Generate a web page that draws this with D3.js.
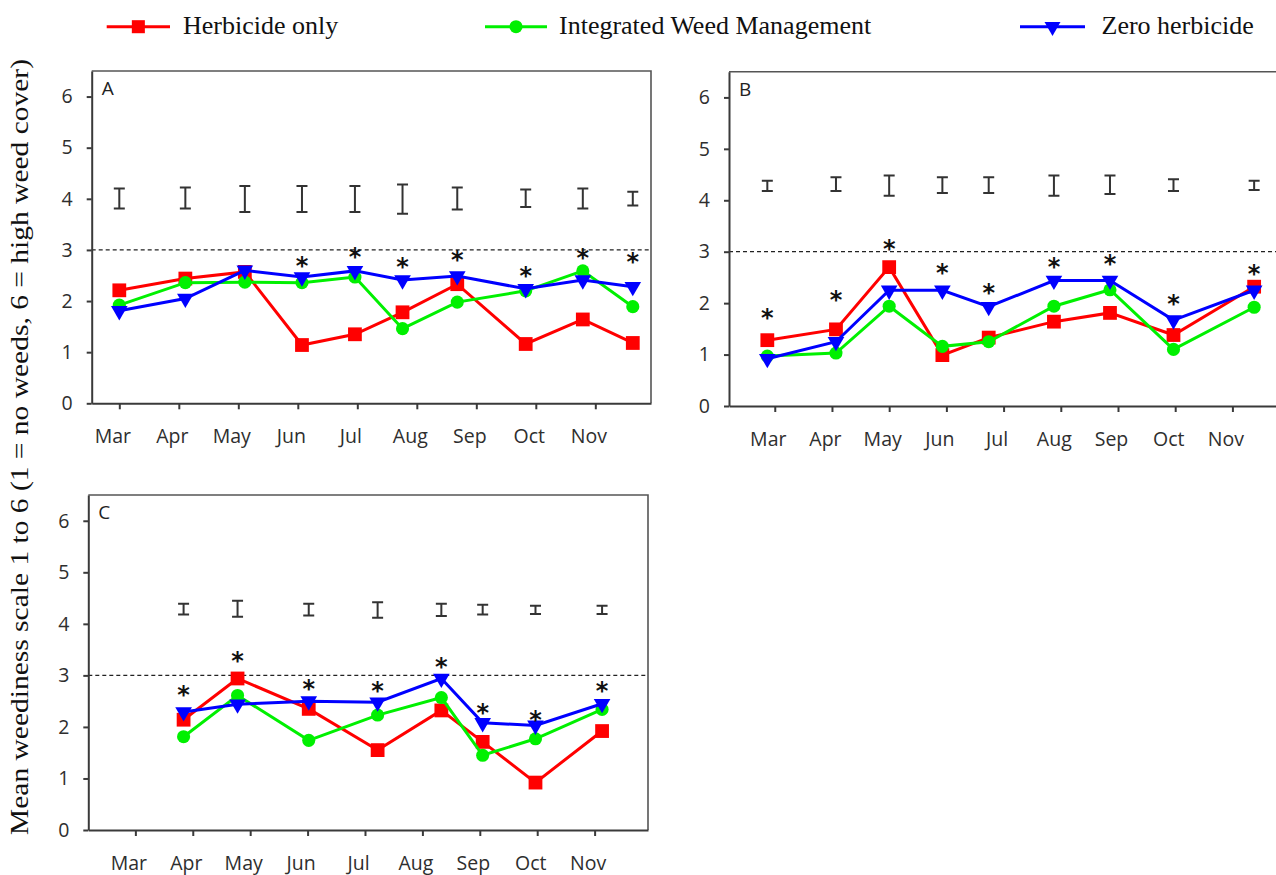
<!DOCTYPE html>
<html>
<head>
<meta charset="utf-8">
<script src="https://cdn.jsdelivr.net/npm/d3@7/dist/d3.min.js"></script>
<style>
  html, body { margin: 0; padding: 0; background: #fff; }
  svg { display: block; }
</style>
</head>
<body>
<svg id="chart" width="1276" height="875"></svg>
<script>
// Month tick labels shared by all panels (tick index 0 = March)
const months = ["Mar", "Apr", "May", "Jun", "Jul", "Aug", "Sep", "Oct", "Nov"];
const yTicks = [0, 1, 2, 3, 4, 5, 6];
const seriesNames = ["Herbicide only", "Integrated Weed Management", "Zero herbicide"];

// Panel A: sampling dates (in months from March) and mean weediness scores
const aDates     = [0.00, 1.11, 2.11, 3.07, 3.96, 4.76, 5.68, 6.83, 7.79, 8.63];
const aHerbicide = [2.21, 2.44, 2.57, 1.14, 1.35, 1.78, 2.33, 1.16, 1.64, 1.18];
const aIWM       = [1.92, 2.36, 2.37, 2.36, 2.47, 1.46, 1.98, 2.20, 2.59, 1.89];
const aZero      = [1.81, 2.05, 2.60, 2.47, 2.59, 2.41, 2.49, 2.24, 2.41, 2.28];
const aErrLow    = [3.81, 3.81, 3.74, 3.74, 3.74, 3.71, 3.79, 3.84, 3.81, 3.87];
const aErrHigh   = [4.20, 4.22, 4.25, 4.25, 4.25, 4.28, 4.22, 4.18, 4.20, 4.14];
const aStars     = [null, null, null, 2.83, 2.99, 2.80, 2.94, 2.62, 2.97, 2.90];

// Panel B
const bDates     = [-0.13, 1.07, 2.00, 2.93, 3.74, 4.88, 5.86, 6.97, 8.38];
const bHerbicide = [1.28, 1.49, 2.70, 0.99, 1.33, 1.64, 1.81, 1.38, 2.32];
const bIWM       = [0.97, 1.03, 1.94, 1.16, 1.25, 1.94, 2.26, 1.10, 1.92];
const bZero      = [0.92, 1.25, 2.25, 2.25, 1.93, 2.44, 2.44, 1.67, 2.25];
const bErrLow    = [4.18, 4.18, 4.09, 4.14, 4.14, 4.09, 4.12, 4.18, 4.20];
const bErrHigh   = [4.38, 4.45, 4.48, 4.45, 4.45, 4.48, 4.48, 4.41, 4.38];
const bStars     = [1.85, 2.20, 3.19, 2.73, 2.33, 2.83, 2.90, 2.11, 2.70];

// Panel C
const cDates     = [0.84, 1.78, 3.02, 4.22, 5.33, 6.05, 6.97, 8.13];
const cHerbicide = [2.14, 2.94, 2.35, 1.55, 2.32, 1.71, 0.92, 1.92];
const cIWM       = [1.81, 2.61, 1.74, 2.23, 2.57, 1.45, 1.77, 2.34];
const cZero      = [2.29, 2.44, 2.50, 2.48, 2.94, 2.08, 2.03, 2.45];
const cErrLow    = [4.18, 4.14, 4.16, 4.12, 4.15, 4.18, 4.19, 4.19];
const cErrHigh   = [4.39, 4.45, 4.39, 4.42, 4.39, 4.37, 4.35, 4.35];
const cStars     = [2.76, 3.42, 2.88, 2.83, 3.30, 2.40, 2.27, 2.83];

const thresholdValue = 3;

// ---- styling and layout ----
const colors = ["#ff0000", "#00f000", "#0000ff"];
const symbols = [d3.symbolSquare, d3.symbolCircle, d3.symbolTriangle];
const symbolSizes = [190, 135, 120];
const symbolRotate = [0, 0, 180];
const tickFont = "'Open Sans', 'DejaVu Sans', sans-serif";
const serifFont = "'Liberation Serif', 'DejaVu Serif', serif";

const panels = [
  { letter: "A", dates: aDates, series: [aHerbicide, aIWM, aZero], errLow: aErrLow, errHigh: aErrHigh, stars: aStars,
    left: 91.7, right: 651, top: 71, bottom: 403.3, xDomain: [-0.464, 8.936], closedRight: true },
  { letter: "B", dates: bDates, series: [bHerbicide, bIWM, bZero], errLow: bErrLow, errHigh: bErrHigh, stars: bStars,
    left: 729, right: 1278, top: 71.7, bottom: 406, xDomain: [-0.80, 8.797], closedRight: false },
  { letter: "C", dates: cDates, series: [cHerbicide, cIWM, cZero], errLow: cErrLow, errHigh: cErrHigh, stars: cStars,
    left: 88.3, right: 648, top: 495, bottom: 830, xDomain: [-0.82, 8.93], closedRight: true }
];

const svg = d3.select("#chart");

function drawPanel(p) {
  const g = svg.append("g");
  const x = d3.scaleLinear().domain(p.xDomain).range([p.left, p.right]);
  const y = d3.scaleLinear().domain([0, 6.5]).range([p.bottom, p.top]);

  // top and right border of the plot frame
  const framePath = d3.path();
  framePath.moveTo(p.left, p.top);
  framePath.lineTo(p.right, p.top);
  if (p.closedRight) framePath.lineTo(p.right, p.bottom);
  g.append("path").attr("d", framePath.toString())
    .attr("fill", "none").attr("stroke", "#555").attr("stroke-width", 1.6);

  // dashed threshold at score 3
  g.append("line")
    .attr("x1", p.left).attr("x2", p.right)
    .attr("y1", y(thresholdValue)).attr("y2", y(thresholdValue))
    .attr("stroke", "#222").attr("stroke-width", 1.3).attr("stroke-dasharray", "4,3");

  // axes
  const yAxis = g.append("g").attr("transform", `translate(${p.left},0)`)
    .call(d3.axisLeft(y).tickValues(yTicks).tickFormat(d3.format("d")).tickSize(5).tickSizeOuter(0).tickPadding(14));
  const xAxis = g.append("g").attr("transform", `translate(0,${p.bottom})`)
    .call(d3.axisBottom(x).tickValues(d3.range(months.length)).tickFormat(i => months[i]).tickSize(6).tickSizeOuter(0).tickPadding(20));
  [yAxis, xAxis].forEach(ax => {
    ax.attr("font-family", tickFont).attr("font-size", 19.5);
    ax.selectAll("path, line").attr("stroke", "#3a3a3a").attr("stroke-width", 2);
    ax.selectAll("text").attr("fill", "#2e2e2e");
  });
  xAxis.selectAll("text").attr("dx", -7);

  // panel letter
  g.append("text").attr("x", p.left + 10).attr("y", p.top + 24)
    .attr("font-family", tickFont).attr("font-size", 19).attr("fill", "#222").text(p.letter);

  // error bars (I-beams)
  const capW = 5.5;
  const eb = g.append("g").attr("stroke", "#333").attr("stroke-width", 2).attr("fill", "none");
  p.dates.forEach((d, i) => {
    const cx = x(d), y0 = y(p.errLow[i]), y1 = y(p.errHigh[i]);
    const pth = d3.path();
    pth.moveTo(cx, y0); pth.lineTo(cx, y1);
    pth.moveTo(cx - capW, y0); pth.lineTo(cx + capW, y0);
    pth.moveTo(cx - capW, y1); pth.lineTo(cx + capW, y1);
    eb.append("path").attr("d", pth.toString());
  });

  // series lines and markers
  p.series.forEach((vals, s) => {
    const pts = p.dates.map((d, i) => [d, vals[i]]);
    g.append("path").datum(pts)
      .attr("d", d3.line().x(d => x(d[0])).y(d => y(d[1])))
      .attr("fill", "none").attr("stroke", colors[s]).attr("stroke-width", 3);
    g.selectAll(null).data(pts).join("path")
      .attr("d", d3.symbol().type(symbols[s]).size(symbolSizes[s]))
      .attr("transform", d => `translate(${x(d[0])},${y(d[1])}) rotate(${symbolRotate[s]})`)
      .attr("fill", colors[s]);
  });

  // significance asterisks
  g.selectAll(null).data(p.dates.map((d, i) => [d, p.stars[i]]).filter(d => d[1] != null))
    .join("text")
    .attr("x", d => x(d[0])).attr("y", d => y(d[1]) + 15)
    .attr("text-anchor", "middle")
    .attr("font-family", "'DejaVu Sans', sans-serif").attr("font-weight", "bold").attr("font-size", 24)
    .attr("fill", "#111").text("*");
}

panels.forEach(drawPanel);

// legend across the top
const legendItems = [
  { x1: 106.7, x2: 170, tx: 183 },
  { x1: 485, x2: 547, tx: 559 },
  { x1: 1020, x2: 1085, tx: 1101.5 }
];
const legend = svg.append("g");
legendItems.forEach((it, s) => {
  const ly = 26.7;
  legend.append("line").attr("x1", it.x1).attr("x2", it.x2).attr("y1", ly).attr("y2", ly)
    .attr("stroke", colors[s]).attr("stroke-width", 3);
  legend.append("path")
    .attr("d", d3.symbol().type(symbols[s]).size([170, 135, 110][s]))
    .attr("transform", `translate(${(it.x1 + it.x2) / 2},${ly}) rotate(${symbolRotate[s]})`)
    .attr("fill", colors[s]);
  legend.append("text").attr("x", it.tx).attr("y", 33.5)
    .attr("font-family", serifFont).attr("font-size", 26).attr("fill", "#111")
    .attr("xml:space", "preserve")
    .text(seriesNames[s]);
});

// shared y-axis title
svg.append("text")
  .attr("transform", "translate(28,447) rotate(-90)")
  .attr("text-anchor", "middle")
  .attr("font-family", serifFont).attr("font-size", 26).attr("fill", "#111")
  .attr("textLength", 776).attr("lengthAdjust", "spacingAndGlyphs")
  .text("Mean weediness scale 1 to 6 (1 = no weeds, 6 = high weed cover)");
</script>
</body>
</html>
